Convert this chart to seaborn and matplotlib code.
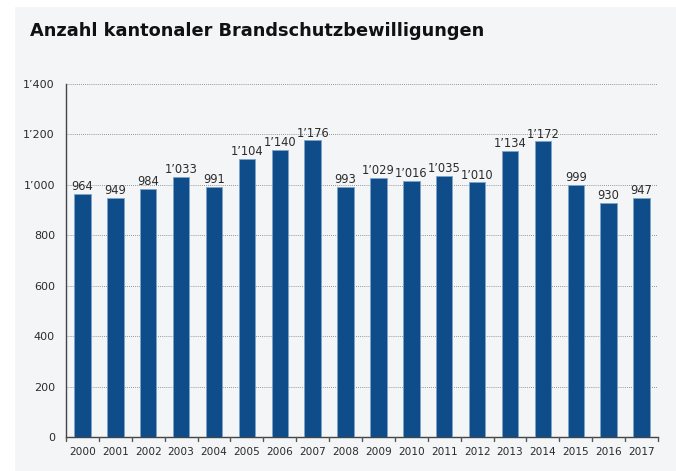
import matplotlib
matplotlib.use("Agg")
import matplotlib.pyplot as plt
from matplotlib.patches import Rectangle
import seaborn as sns
import pandas as pd

years = ["2000", "2001", "2002", "2003", "2004", "2005", "2006", "2007", "2008",
         "2009", "2010", "2011", "2012", "2013", "2014", "2015", "2016", "2017"]
values = [964, 949, 984, 1033, 991, 1104, 1140, 1176, 993,
          1029, 1016, 1035, 1010, 1134, 1172, 999, 930, 947]
yticks = [0, 200, 400, 600, 800, 1000, 1200, 1400]
title = "Anzahl kantonaler Brandschutzbewilligungen"

BG = "#f4f5f7"
BAR = "#0e4c8a"
TXT = "#2b2b2b"

sns.set_theme(style="white")
plt.rcParams["font.family"] = ["DejaVu Sans"]

def fmt(v):
    return f"{v:,}".replace(",", "\u2019")

df = pd.DataFrame({"year": years, "value": values})

fig = plt.figure(figsize=(6.76, 4.71), dpi=100)
fig.patch.set_facecolor("white")
fig.patches.append(Rectangle((15 / 676, 0), 1, 1 - 7 / 471, transform=fig.transFigure,
                             facecolor=BG, edgecolor="none", zorder=-10))

ax = fig.add_axes([66 / 676, 1 - 437 / 471, (658 - 66) / 676, (437 - 84) / 471])
ax.set_facecolor(BG)

sns.barplot(data=df, x="year", y="value", color=BAR, width=0.5, ax=ax,
            edgecolor="#7fa3c9", linewidth=0.6, saturation=1, zorder=3)

for i, v in enumerate(values):
    ax.text(i, v + 3, fmt(v), ha="center", va="bottom", fontsize=8.3, color=TXT, zorder=4)

ax.set_ylim(0, 1400)
ax.set_xlim(-0.5, len(years) - 0.5)
ax.set_yticks(yticks)
ax.set_yticklabels([fmt(t) for t in yticks], fontsize=8, color=TXT)
ax.set_xticks(range(len(years)))
ax.set_xticklabels(years, fontsize=7.6, color=TXT)
ax.tick_params(axis="x", length=0, pad=7)
ax.tick_params(axis="y", length=5, width=0.8, color="#555555", pad=3, direction="out")
ax.set_xlabel("")
ax.set_ylabel("")

for t in yticks[1:]:
    ax.axhline(t, color="#777777", linestyle=(0, (1, 1.5)), linewidth=0.6, zorder=1)

# category boundary ticks on x axis
for b in range(len(years) + 1):
    ax.plot([b - 0.5, b - 0.5], [0, -0.012], transform=ax.get_xaxis_transform(),
            color="#555555", linewidth=1.0, clip_on=False, zorder=5)

for s in ["top", "right"]:
    ax.spines[s].set_visible(False)
ax.spines["left"].set_color("#444444")
ax.spines["left"].set_linewidth(1.0)
ax.spines["bottom"].set_color("#444444")
ax.spines["bottom"].set_linewidth(1.0)

fig.text(30 / 676, 1 - 31 / 471, title, fontsize=12.8, fontweight="bold",
         color="#111111", ha="left", va="center")

fig.savefig("out.png", dpi=100, facecolor=fig.get_facecolor())
